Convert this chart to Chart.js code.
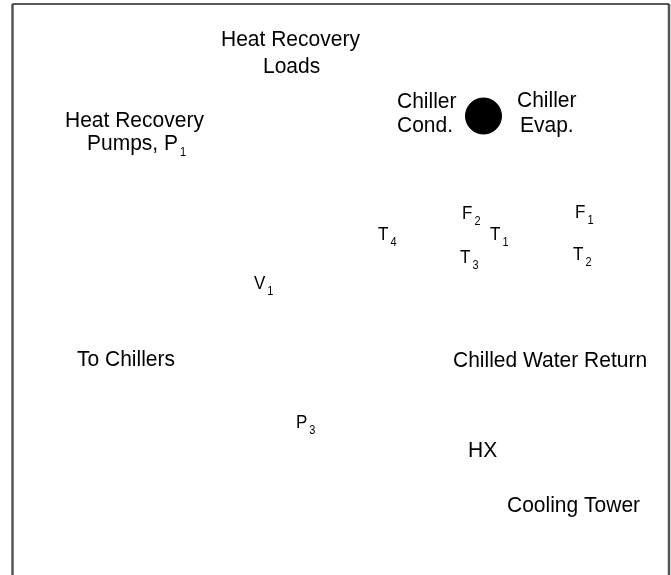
<!DOCTYPE html>
<html lang="en">
<head>
  <meta charset="UTF-8">
  <title>Heat Recovery Chiller Diagram</title>
  <script src="https://cdn.jsdelivr.net/npm/chart.js"></script>
  <style>
    html, body { margin: 0; padding: 0; background: #ffffff; }
    #wrap { width: 671px; height: 575px; }
  </style>
</head>
<body>
<div id="wrap"><canvas id="chart" width="671" height="575"></canvas></div>

<script>
  // diagram labels: text, left x, baseline y, subscript
  const labelTexts = ['Heat Recovery', 'Loads', 'Heat Recovery', 'Pumps, P', 'Chiller', 'Cond.', 'Chiller', 'Evap.',
                      'T', 'F', 'T', 'T', 'F', 'T', 'V', 'To Chillers', 'Chilled Water Return', 'P', 'HX', 'Cooling Tower'];
  const labelX = [221, 263, 65, 87, 397, 397, 517, 520, 378, 462, 490, 460, 575, 573, 254, 77, 453, 296, 468, 507];
  const labelY = [46, 73, 127, 150, 108, 132, 107, 132, 240, 219, 240, 263, 218, 260, 289, 366, 367, 428, 457, 512];
  const labelSubs = ['', '', '', '1', '', '', '', '', '4', '2', '1', '3', '1', '2', '1', '', '', '3', '', ''];
  const labelSmall = [false, false, false, false, false, false, false, false, true, true, true, true, true, true, true, false, false, true, false, false];

  // chiller node
  const nodeX = [483.5];
  const nodeY = [116];

  // frame edges
  const frameLeft = 12.5;
  const frameRight = 669;
  const frameTop = 4;

  const framePlugin = {
    id: 'frame',
    beforeDatasetsDraw(chart) {
      const c = chart.ctx, xs = chart.scales.x, ys = chart.scales.y;
      const l = xs.getPixelForValue(frameLeft), r = xs.getPixelForValue(frameRight);
      const t = ys.getPixelForValue(frameTop), b = ys.getPixelForValue(575);
      c.save();
      c.strokeStyle = '#555555';
      c.lineWidth = 2.5;
      c.beginPath();
      c.moveTo(l, b); c.lineTo(l, t);
      c.moveTo(r, t); c.lineTo(r, b);
      c.stroke();
      c.strokeStyle = '#222222';
      c.lineWidth = 1.5;
      c.beginPath();
      c.moveTo(l, t); c.lineTo(r, t);
      c.stroke();
      c.restore();
    }
  };

  const labelPlugin = {
    id: 'labels',
    afterDatasetsDraw(chart) {
      const c = chart.ctx, xs = chart.scales.x, ys = chart.scales.y;
      labelTexts.forEach((txt, i) => {
        const px = xs.getPixelForValue(labelX[i]);
        const py = ys.getPixelForValue(labelY[i]);
        c.save();
        c.fillStyle = '#000000';
        c.textAlign = 'left';
        c.textBaseline = 'alphabetic';
        c.translate(px, py);
        c.scale(1, 1.08);
        c.font = (labelSmall[i] ? '17px' : '21px') + ' "Liberation Sans", Arial, sans-serif';
        c.fillText(txt, 0, 0);
        if (labelSubs[i]) {
          const w = c.measureText(txt).width;
          c.font = '11px "Liberation Sans", Arial, sans-serif';
          c.fillText(labelSubs[i], w + 2, 6);
        }
        c.restore();
      });
    }
  };

  const ctx = document.getElementById('chart').getContext('2d');
  new Chart(ctx, {
    type: 'scatter',
    data: {
      datasets: [{
        data: nodeX.map((x, i) => ({ x: x, y: nodeY[i] })),
        backgroundColor: '#000000',
        borderColor: '#000000',
        pointRadius: 18,
        pointHoverRadius: 18,
        clip: false
      }]
    },
    options: {
      responsive: false,
      animation: false,
      layout: { padding: 0, autoPadding: false },
      plugins: { legend: { display: false }, tooltip: { enabled: false } },
      scales: {
        x: { type: 'linear', min: 0, max: 671, display: false },
        y: { type: 'linear', min: 0, max: 575, reverse: true, display: false }
      }
    },
    plugins: [framePlugin, labelPlugin]
  });
</script>
</body>
</html>
